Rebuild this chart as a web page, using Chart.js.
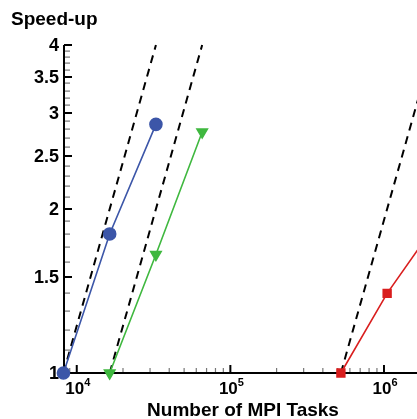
<!DOCTYPE html>
<html>
<head>
<meta charset="utf-8">
<script src="https://cdn.jsdelivr.net/npm/chart.js@4/dist/chart.umd.min.js"></script>
<style>
  body { margin: 0; background: #fff; }
  canvas { display: block; }
</style>
</head>
<body>
<canvas id="speedupChart" width="417" height="419"></canvas>
<script>
// MPI task counts and measured speed-up
const blueTasks = [8192, 16384, 32768];
const blueSpeedup = [1, 1.8, 2.86];
const greenTasks = [16384, 32768, 65536];
const greenSpeedup = [1, 1.65, 2.77];
const redTasks = [524288, 1048576, 2097152];
const redSpeedup = [1, 1.4, 1.85];

// ideal scaling lines: start count, speed-up 1 -> 4 at 4x tasks
const idealStarts = [8192, 16384, 524288];
const idealSpeedup = [1, 4];

// axis ticks
const yMajorTicks = [1, 1.5, 2, 2.5, 3, 3.5, 4];
const yMinorTicks = [1.1, 1.2, 1.3, 1.4, 1.6, 1.7, 1.8, 1.9, 2.1, 2.2, 2.3, 2.4,
    2.6, 2.7, 2.8, 2.9, 3.1, 3.2, 3.3, 3.4, 3.6, 3.7, 3.8, 3.9];
const xDecades = [4, 5, 6];

const FONT = 'Liberation Sans, Arial, Helvetica, sans-serif';

function toPoints(xs, ys) {
    return xs.map((x, i) => ({ x: x, y: ys[i] }));
}

const datasets = [];
idealStarts.forEach(function (n) {
    datasets.push({
        data: toPoints([n, 4 * n], idealSpeedup),
        borderColor: '#000',
        borderWidth: 2,
        borderDash: [8, 6],
        pointRadius: 0,
        clip: false,
        order: 2
    });
});
datasets.push({
    data: toPoints(blueTasks, blueSpeedup),
    borderColor: '#3c56a8',
    backgroundColor: '#3c56a8',
    borderWidth: 1.6,
    pointStyle: 'circle',
    pointRadius: 6,
    clip: false,
    order: 1
});
datasets.push({
    data: toPoints(greenTasks, greenSpeedup),
    borderColor: '#3fb83f',
    backgroundColor: '#3fb83f',
    borderWidth: 1.6,
    pointStyle: 'triangle',
    rotation: 180,
    pointRadius: 6,
    clip: false,
    order: 1
});
datasets.push({
    data: toPoints(redTasks, redSpeedup),
    borderColor: '#d91e1e',
    backgroundColor: '#d91e1e',
    borderWidth: 1.6,
    pointStyle: 'rect',
    pointRadius: 5.5,
    clip: false,
    order: 1
});

// axes, ticks and labels drawn by hand (inward ticks, superscript labels)
const axesPlugin = {
    id: 'axes',
    beforeDatasetsDraw(chart) {
        const ctx = chart.ctx;
        const xs = chart.scales.x;
        const ys = chart.scales.y;
        const area = chart.chartArea;
        ctx.save();

        // minor y ticks
        ctx.fillStyle = '#777';
        for (let i = 0; i < yMinorTicks.length; i++) {
            const py = Math.round(ys.getPixelForValue(yMinorTicks[i]));
            ctx.fillRect(area.left, py - 0.5, 6, 1.2);
        }

        // x ticks
        for (let d = 3; d <= 6; d++) {
            for (let m = 1; m <= 9; m++) {
                const v = m * Math.pow(10, d);
                if (v < xs.min || v > xs.max) continue;
                const px = xs.getPixelForValue(v);
                ctx.lineWidth = m === 1 ? 2 : 1.2;
                ctx.strokeStyle = m === 1 ? '#000' : '#777';
                ctx.beginPath();
                ctx.moveTo(px, area.bottom);
                ctx.lineTo(px, area.bottom - (m === 1 ? 8 : 5));
                ctx.stroke();
            }
        }

        // major y ticks
        ctx.strokeStyle = '#000';
        ctx.lineWidth = 2;
        yMajorTicks.forEach(function (v) {
            const py = Math.round(ys.getPixelForValue(v));
            ctx.beginPath();
            ctx.moveTo(area.left, py);
            ctx.lineTo(area.left + 8, py);
            ctx.stroke();
        });

        // axis lines
        ctx.lineWidth = 2;
        ctx.beginPath();
        ctx.moveTo(area.left, area.top);
        ctx.lineTo(area.left, area.bottom);
        ctx.lineTo(chart.width, area.bottom);
        ctx.stroke();

        // y labels
        ctx.fillStyle = '#000';
        ctx.font = 'bold 18px ' + FONT;
        ctx.textAlign = 'right';
        ctx.textBaseline = 'middle';
        yMajorTicks.forEach(function (v) {
            ctx.fillText(String(v), area.left - 5, ys.getPixelForValue(v) + 1);
        });

        // x labels 10^n
        xDecades.forEach(function (d) {
            const px = xs.getPixelForValue(Math.pow(10, d));
            ctx.font = 'bold 17px ' + FONT;
            ctx.textAlign = 'left';
            ctx.textBaseline = 'alphabetic';
            const w = ctx.measureText('10').width;
            ctx.fillText('10', px - w / 2 - 2, 394);
            ctx.font = 'bold 11px ' + FONT;
            ctx.fillText(String(d), px + w / 2 - 2, 386);
        });

        // titles
        ctx.font = 'bold 19px ' + FONT;
        ctx.textAlign = 'left';
        ctx.fillText('Speed-up', 11, 25);
        ctx.textAlign = 'center';
        ctx.fillText('Number of MPI Tasks', 243, 416);
        ctx.restore();
    }
};

const ctx = document.getElementById('speedupChart').getContext('2d');
new Chart(ctx, {
    type: 'line',
    data: { datasets: datasets },
    options: {
        responsive: false,
        animation: false,
        devicePixelRatio: 1,
        layout: { padding: { left: 64, right: 0, top: 45, bottom: 46 } },
        plugins: { legend: { display: false }, tooltip: { enabled: false } },
        scales: {
            x: { type: 'logarithmic', min: 8260, max: 1464000, display: false },
            y: { type: 'logarithmic', min: 1, max: 4, display: false }
        }
    },
    plugins: [axesPlugin]
});
</script>
</body>
</html>
